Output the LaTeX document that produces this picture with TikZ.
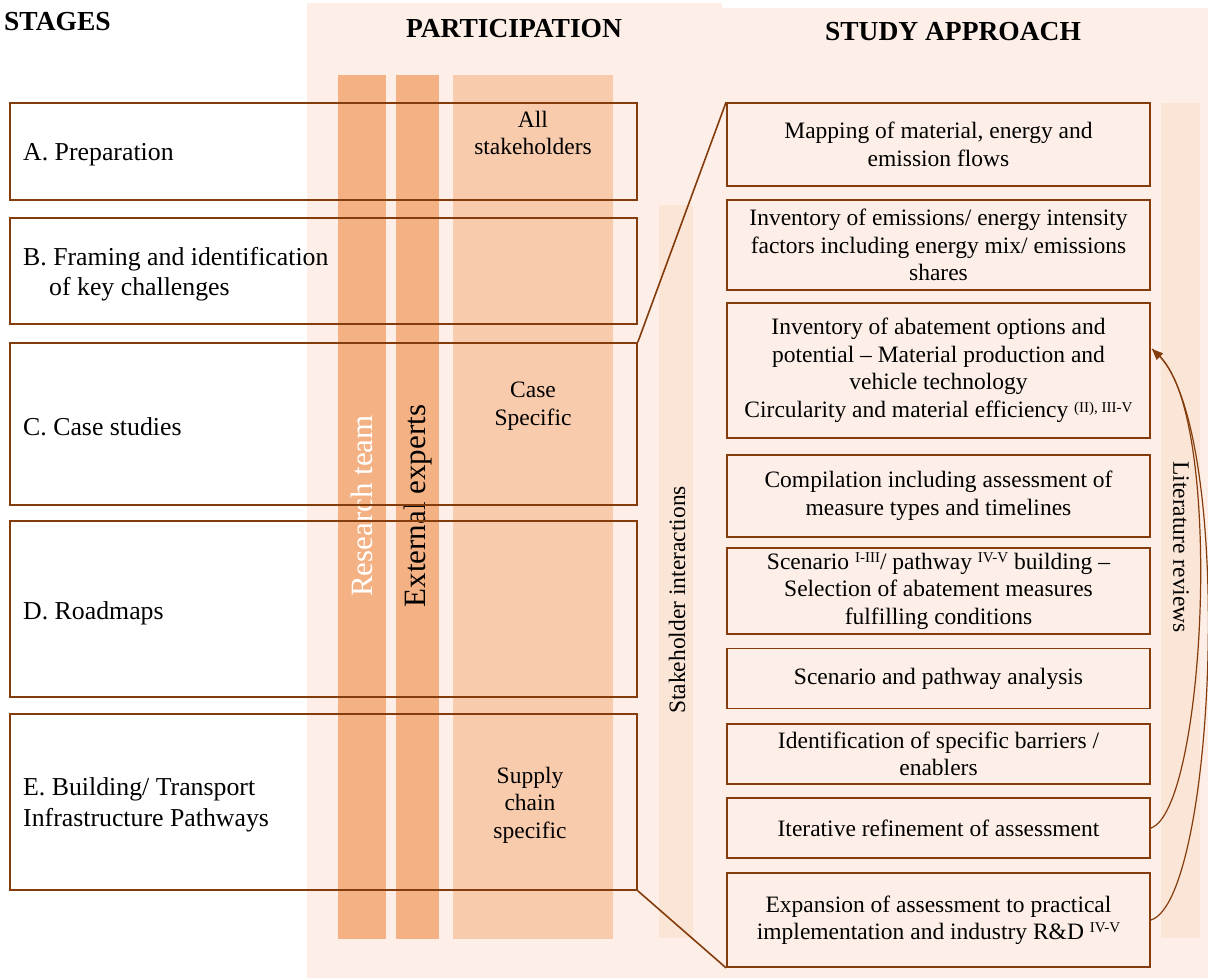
\documentclass[tikz,border=0pt]{standalone}
\usepackage{fontspec}
\setmainfont{Liberation Serif}
\usetikzlibrary{arrows.meta}
\definecolor{bgc}{HTML}{FDEFE7}
\definecolor{barA}{HTML}{F4B183}
\definecolor{barB}{HTML}{F8CBAD}
\definecolor{barC}{HTML}{FBE5D6}
\definecolor{edge}{HTML}{843C0C}
\tikzset{
  body/.style={font=\fontsize{23.5}{27.5}\selectfont, text=black},
  ltext/.style={text=black, anchor=west, align=left, inner sep=0pt, font=\fontsize{25.8}{30.5}\selectfont},
  lbox/.style={draw=edge, line width=1.6pt, minimum width=627pt, inner sep=0pt},
  rbox/.style={draw=edge, line width=1.8pt, minimum width=423pt, inner sep=0pt, body, align=center},
  vtext/.style={body, inner sep=0pt},
  ctext/.style={body, align=center, inner sep=0pt},
  title/.style={font=\fontsize{27.5}{32}\selectfont\bfseries, text=black, inner sep=0pt},
  conn/.style={draw=edge, line width=1.6pt},
}
\begin{document}
\begin{tikzpicture}[x=1pt,y=-1pt]
\useasboundingbox (0,0) rectangle (1208,978);
\fill[white] (0,0) rectangle (1208,978);
\fill[bgc] (307,3) rectangle (722,978);
\fill[bgc] (722,8) rectangle (1208,978);

% titles
\node[title, anchor=west] (tstages) at (4,22) {STAGES};
\node[title] (tpart) at (514,29) {PARTICIPATION};
\node[title] (tstudy) at (953,32) {STUDY APPROACH};

% participation bars
\fill[barA] (338,75) rectangle (386,939);
\fill[barA] (396,75) rectangle (439,939);
\fill[barB] (453,75) rectangle (613,939);
\fill[barC] (659,205) rectangle (693,938);
\fill[barC] (1161,103) rectangle (1200,938);

\node[vtext, rotate=90, text=white, font=\fontsize{31}{36}\selectfont] (rteam) at (362,506) {Research team};
\node[vtext, rotate=90, font=\fontsize{31}{36}\selectfont] (ext) at (418,506) {External experts};
\node[vtext, rotate=90] (stake) at (677,600) {Stakeholder interactions};
\node[vtext, rotate=-90] (lit) at (1181,547) {Literature reviews};

% stage boxes
\node[lbox, minimum height=97pt] (A) at (323.5,151.5) {};
\node[lbox, minimum height=106pt] (B) at (323.5,271) {};
\node[lbox, minimum height=162pt] (C) at (323.5,424) {};
\node[lbox, minimum height=176pt] (D) at (323.5,609) {};
\node[lbox, minimum height=176pt] (E) at (323.5,802) {};

\node[ltext] (At) at (23,155) {A. Preparation};
\node[ltext] (Bt) at (23,274) {B. Framing and identification\\\hspace*{26pt}of key challenges};
\node[ltext] (Ct) at (23,427) {C. Case studies};
\node[ltext] (Dt) at (23,613) {D. Roadmaps};
\node[ltext] (Et) at (23,805) {E. Building/ Transport\\Infrastructure Pathways};

\node[ctext] (p1) at (533,133) {All\\stakeholders};
\node[ctext] (p2) at (533,406) {Case\\Specific};
\node[ctext] (p3) at (530,805) {Supply\\chain\\specific};

% study approach boxes
\node[rbox, minimum height=83pt] (r1) at (938.5,144.5) {Mapping of material, energy and\\emission flows};
\node[rbox, minimum height=90pt] (r2) at (938.5,245) {Inventory of emissions/ energy intensity\\factors including energy mix/ emissions\\shares};
\node[rbox, minimum height=135pt] (r3) at (938.5,370.5) {Inventory of abatement options and\\potential -- Material production and\\vehicle technology\\Circularity and material efficiency {\fontsize{15}{15}\selectfont\raisebox{5pt}{(II), III-V}}};
\node[rbox, minimum height=82pt] (r4) at (938.5,496) {Compilation including assessment of\\measure types and timelines};
\node[rbox, minimum height=86pt] (r5) at (938.5,591) {Scenario {\fontsize{15}{15}\selectfont\raisebox{7pt}{I-III}}/ pathway {\fontsize{15}{15}\selectfont\raisebox{7pt}{IV-V}} building --\\Selection of abatement measures\\fulfilling conditions};
\node[rbox, minimum height=60pt] (r6) at (938.5,678.5) {Scenario and pathway analysis};
\node[rbox, minimum height=60pt] (r7) at (938.5,754) {Identification of specific barriers /\\enablers};
\node[rbox, minimum height=60pt] (r8) at (938.5,828) {Iterative refinement of assessment};
\node[rbox, minimum height=94pt] (r9) at (938.5,920) {Expansion of assessment to practical\\implementation and industry R\&D {\fontsize{15}{15}\selectfont\raisebox{7pt}{IV-V}}};

% connectors
\draw[conn] (C.north east) -- (r1.north west);
\draw[conn] (E.south east) -- (r9.south west);

\coordinate (tip) at (1152,349);
\draw[conn, line width=1.2pt, -{Triangle[length=11pt,width=9pt]}] (r8.east) .. controls (1205,810) and (1225,420) .. (tip);
\draw[conn, line width=1.2pt] (r9.east) .. controls (1217,900) and (1237,410) .. (tip);
\end{tikzpicture}
\end{document}
